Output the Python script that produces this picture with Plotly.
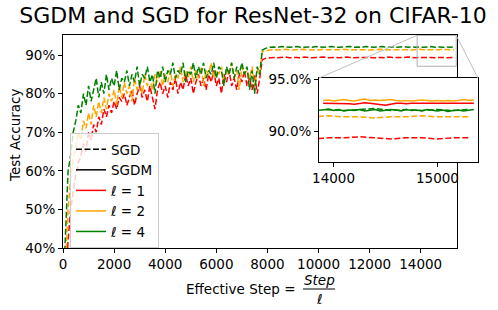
import plotly.graph_objects as go

# ---------------- data ----------------
# noisy phase (before LR decay), effective steps
x_early = list(range(0, 7800, 100))
sgd_l4_early = [28, 46, 60, 64, 70, 73, 77, 75, 80, 77, 82, 78, 81, 84, 79, 83, 80, 85, 81, 84,
                82, 86, 81, 84, 83, 86, 82, 85, 83, 87, 82, 85, 84, 87, 83, 85, 80, 86, 84, 87,
                83, 86, 85, 88, 84, 86, 85, 88, 83, 86, 85, 88, 84, 87, 85, 88, 84, 86, 85, 88,
                84, 87, 86, 82, 87, 85, 88, 84, 87, 85, 88, 85, 87, 81, 86, 80, 87, 85]
sgd_l2_early = [22, 38, 50, 58, 63, 66, 70, 68, 73, 71, 75, 72, 77, 74, 78, 75, 79, 76, 80, 78,
                81, 77, 82, 79, 83, 80, 82, 78, 84, 81, 83, 80, 85, 82, 84, 81, 85, 83, 86, 82,
                85, 83, 86, 82, 85, 84, 87, 83, 86, 84, 87, 83, 86, 84, 87, 82, 86, 85, 88, 84,
                86, 85, 87, 83, 86, 85, 88, 84, 86, 81, 87, 85, 86, 84, 87, 82, 86, 85]
sgd_l1_early = [18, 32, 42, 50, 55, 59, 62, 64, 67, 65, 70, 68, 72, 70, 74, 72, 76, 74, 77, 75,
                78, 76, 79, 78, 80, 77, 79, 81, 77, 80, 82, 79, 81, 78, 82, 79, 76, 81, 83, 80,
                82, 79, 83, 81, 84, 80, 83, 81, 85, 82, 84, 80, 83, 85, 82, 84, 81, 85, 83, 86,
                82, 84, 80, 85, 83, 86, 82, 84, 81, 85, 83, 86, 82, 84, 81, 85, 80, 84]

# plateau phase (after LR decay)
x_late = list(range(7800, 15301, 150))
sgd_l4_late = [91.3, 91.8, 92.0, 92.1, 92.0, 92.2, 92.1, 92.0, 92.1, 92.2, 92.0, 92.1, 92.1, 92.0,
               92.2, 92.1, 92.0, 92.1, 92.2, 92.1, 92.0, 92.1, 92.1, 92.2, 92.0, 92.1, 92.0, 92.2,
               92.1, 92.0, 92.1, 92.2, 92.1, 92.0, 92.1, 92.0, 92.1, 92.2, 92.0, 92.1, 92.0, 92.1,
               92.0, 92.1, 92.2, 92.0, 92.1, 92.0, 92.1, 92.0, 92.1]
sgd_l2_late = [90.9, 91.2, 91.3, 91.4, 91.3, 91.4, 91.5, 91.4, 91.3, 91.4, 91.4, 91.5, 91.3, 91.4,
               91.4, 91.3, 91.5, 91.4, 91.4, 91.3, 91.4, 91.5, 91.4, 91.3, 91.4, 91.4, 91.5, 91.4,
               91.3, 91.4, 91.4, 91.5, 91.4, 91.3, 91.4, 91.4, 91.5, 91.4, 91.4, 91.3, 91.4, 91.5,
               91.4, 91.4, 91.3, 91.4, 91.4, 91.5, 91.4, 91.4, 91.4]
sgd_l1_late = [88.8, 89.2, 89.3, 89.4, 89.3, 89.4, 89.5, 89.3, 89.4, 89.4, 89.3, 89.5, 89.4, 89.3,
               89.4, 89.4, 89.5, 89.3, 89.4, 89.4, 89.3, 89.4, 89.5, 89.4, 89.3, 89.4, 89.4, 89.5,
               89.4, 89.3, 89.4, 89.4, 89.3, 89.5, 89.4, 89.4, 89.3, 89.4, 89.5, 89.4, 89.3, 89.4,
               89.4, 89.5, 89.4, 89.3, 89.4, 89.4, 89.3, 89.4, 89.4]

# SGDM (shown in inset)
x_sgdm = list(range(13900, 15351, 50))
sgdm_l2 = [92.95, 93.0, 92.9, 92.95, 93.05, 92.95, 92.9, 93.0, 93.1, 92.95, 93.0, 92.95, 93.0,
           93.05, 92.95, 92.9, 92.95, 92.9, 92.95, 93.0, 92.95, 92.9, 92.95, 92.9, 92.95, 92.9,
           92.95, 93.05, 92.95, 93.0]
sgdm_l1 = [92.7, 92.7, 92.65, 92.7, 92.7, 92.65, 92.6, 92.7, 92.75, 92.7, 92.65, 92.55, 92.5,
           92.6, 92.7, 92.7, 92.65, 92.7, 92.7, 92.65, 92.7, 92.7, 92.65, 92.7, 92.65, 92.7,
           92.7, 92.65, 92.7, 92.7]
sgdm_l4 = [92.05, 92.15, 92.0, 92.1, 91.95, 92.05, 92.0, 92.1, 91.95, 92.05, 92.1, 91.95,
           92.0, 92.1, 92.05, 91.95, 92.1, 92.0, 92.05, 91.95, 92.1, 92.0, 91.95, 92.05, 91.9,
           92.0, 92.05, 91.95, 92.05, 92.1]

x_ticks = [0, 2000, 4000, 6000, 8000, 10000, 12000, 14000]
x_tick_labels = ["0", "2000", "4000", "6000", "8000", "10000", "12000", "14000"]
y_ticks = [40, 50, 60, 70, 80, 90]
y_tick_labels = ["40%", "50%", "60%", "70%", "80%", "90%"]
inset_x_ticks = [14000, 15000]
inset_x_labels = ["14000", "15000"]
inset_y_ticks = [90, 95]
inset_y_labels = ["90.0%", "95.0%"]

# ---------------- layout constants ----------------
W, H = 498, 310
FONT = "DejaVu Sans"
RED, ORANGE, GREEN = "#ff0000", "#ffa500", "#008000"
DASH = "6px,2.5px"

main_xr = [0, 15420]
main_yr = [40, 95.2]
main_xd = [63 / W, 457 / W]
main_yd = [(H - 248) / H, (H - 35) / H]
ins_xr = [13860, 15390]
ins_yr = [87.1, 95.1]
ins_xd = [319 / W, 478 / W]
ins_yd = [(H - 162) / H, (H - 78) / H]

fig = go.Figure()

series = [(sgd_l1_early, sgd_l1_late, RED), (sgd_l2_early, sgd_l2_late, ORANGE),
          (sgd_l4_early, sgd_l4_late, GREEN)]
for early, late, c in series:
    fig.add_trace(go.Scatter(x=x_early + x_late, y=early + late, mode="lines",
                             line=dict(color=c, width=1.5, dash=DASH),
                             showlegend=False, xaxis="x", yaxis="y"))
for early, late, c in series:
    fig.add_trace(go.Scatter(x=x_late, y=late, mode="lines",
                             line=dict(color=c, width=1.5, dash=DASH),
                             showlegend=False, xaxis="x2", yaxis="y2"))
for vals, c in [(sgdm_l1, RED), (sgdm_l2, ORANGE), (sgdm_l4, GREEN)]:
    fig.add_trace(go.Scatter(x=x_sgdm, y=vals, mode="lines",
                             line=dict(color=c, width=1.5),
                             showlegend=False, xaxis="x2", yaxis="y2"))

# legend entries
for name, c, d in [("SGD", "black", DASH), ("SGDM", "black", "solid"),
                   ("<i>ℓ</i> = 1", RED, "solid"), ("<i>ℓ</i> = 2", ORANGE, "solid"),
                   ("<i>ℓ</i> = 4", GREEN, "solid")]:
    fig.add_trace(go.Scatter(x=[None], y=[None], mode="lines", name=name,
                             line=dict(color=c, width=1.5, dash=d), xaxis="x", yaxis="y"))

axis_common = dict(showline=True, mirror=True, linecolor="black", linewidth=1,
                   ticks="outside", ticklen=4, tickcolor="black", showgrid=False,
                   zeroline=False, automargin=False,
                   tickfont=dict(family=FONT, size=13.5, color="black"))

def to_paper(v, r, d):
    return d[0] + (v - r[0]) / (r[1] - r[0]) * (d[1] - d[0])

shapes = [
    dict(type="rect", xref="x", yref="y", x0=ins_xr[0], x1=ins_xr[1], y0=ins_yr[0], y1=ins_yr[1],
         line=dict(color="#b0b0b0", width=1), layer="above"),
    dict(type="line", xref="paper", yref="paper",
         x0=to_paper(ins_xr[0], main_xr, main_xd), y0=to_paper(ins_yr[1], main_yr, main_yd),
         x1=ins_xd[0], y1=ins_yd[1], line=dict(color="#c0c0c0", width=1)),
    dict(type="line", xref="paper", yref="paper",
         x0=min(to_paper(ins_xr[1], main_xr, main_xd), main_xd[1]),
         y0=to_paper(ins_yr[1], main_yr, main_yd),
         x1=ins_xd[1], y1=ins_yd[1], line=dict(color="#c0c0c0", width=1)),
    # fraction bar of x label
    dict(type="line", xref="paper", yref="paper", x0=303 / W, x1=335 / W,
         y0=(H - 289) / H, y1=(H - 289) / H, line=dict(color="black", width=1)),
]

annotations = [
    dict(text="Effective Step =", x=184 / W, y=(H - 289) / H, xref="paper", yref="paper",
         xanchor="left", yanchor="middle", showarrow=False,
         font=dict(family=FONT, size=13.5, color="black")),
    dict(text="<i>Step</i>", x=319 / W, y=(H - 280) / H, xref="paper", yref="paper",
         xanchor="center", yanchor="middle", showarrow=False,
         font=dict(family=FONT, size=13.5, color="black")),
    dict(text="<i>ℓ</i>", x=319 / W, y=(H - 299) / H, xref="paper", yref="paper",
         xanchor="center", yanchor="middle", showarrow=False,
         font=dict(family=FONT, size=13.5, color="black")),
    dict(text="Test Accuracy", x=15 / W, y=(H - 135) / H, xref="paper", yref="paper",
         xanchor="center", yanchor="middle", textangle=-90, showarrow=False,
         font=dict(family=FONT, size=13.5, color="black")),
]

fig.update_layout(
    width=W, height=H, margin=dict(l=0, r=0, t=0, b=0, autoexpand=False),
    paper_bgcolor="white", plot_bgcolor="white", hovermode=False,
    title=dict(text="SGDM and SGD for ResNet-32 on CIFAR-10", x=253 / W, y=1 - 15 / H,
               xanchor="center", yanchor="middle", xref="paper", yref="paper",
               font=dict(family=FONT, size=22, color="black")),
    xaxis=dict(range=main_xr, domain=main_xd, anchor="y", tickvals=x_ticks,
               ticktext=x_tick_labels, **axis_common),
    yaxis=dict(range=main_yr, domain=main_yd, anchor="x", tickvals=y_ticks,
               ticktext=y_tick_labels, **axis_common),
    xaxis2=dict(range=ins_xr, domain=ins_xd, anchor="y2", tickvals=inset_x_ticks,
                ticktext=inset_x_labels, **axis_common),
    yaxis2=dict(range=ins_yr, domain=ins_yd, anchor="x2", tickvals=inset_y_ticks,
                ticktext=inset_y_labels, **axis_common),
    legend=dict(x=70 / W, y=(H - 133) / H, xanchor="left", yanchor="top",
                bgcolor="rgba(255,255,255,0.8)", bordercolor="#cccccc", borderwidth=1,
                font=dict(family=FONT, size=13.5, color="black"), itemwidth=30),
    shapes=shapes, annotations=annotations, showlegend=True,
)

fig.write_html("out.html", config={"displayModeBar": False, "staticPlot": True},
               post_script="document.body.style.margin='0';document.body.style.padding='0';")
